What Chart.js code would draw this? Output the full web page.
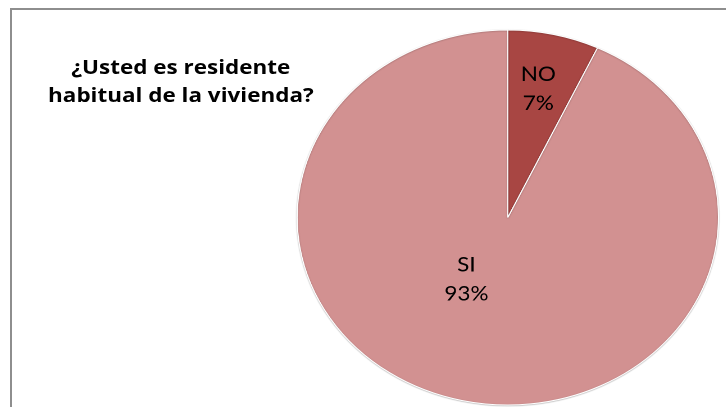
<!DOCTYPE html>
<html>
<head>
<meta charset="utf-8">
<script src="https://cdn.jsdelivr.net/npm/chart.js@4"></script>
<style>
  html, body { margin: 0; padding: 0; background: #fff; }
  #wrap { position: relative; width: 726px; height: 407px; overflow: hidden; background: #fff; }
  #frame { position: absolute; left: 10px; top: 8px; width: 800px; height: 500px;
           border-left: 2px solid #8e8e8e; border-top: 2px solid #8e8e8e; box-sizing: border-box; }
  #stage { position: absolute; left: 0; top: 0; width: 646px; height: 407px;
           transform: scaleX(1.1235); transform-origin: 0 0; }
  #title { position: absolute; left: 40px; width: 242px; top: 53px; text-align: center;
           font-family: "Open Sans", Lato, sans-serif; font-weight: bold; font-size: 20px;
           line-height: 28px; color: #000; }
</style>
</head>
<body>
<div id="wrap">
  <div id="frame"></div>
  <div id="stage">
    <canvas id="c"></canvas>
    <div id="title">¿Usted es residente<br>habitual de la vivienda?</div>
  </div>
</div>
<script>
const categories = ["NO", "SI"];
const values = [7, 93];
const sliceColors = ["#A84643", "#D29191"];

const labelPlugin = {
  id: 'sliceLabels',
  afterDatasetsDraw(chart, args, opts) {
    const ctx = chart.ctx;
    const meta = chart.getDatasetMeta(0);
    const data = chart.data.datasets[0].data;
    const total = data.reduce((a, b) => a + b, 0);
    ctx.save();
    ctx.font = opts.font;
    ctx.fillStyle = opts.color;
    ctx.textAlign = 'center';
    ctx.textBaseline = 'middle';
    meta.data.forEach((arc, i) => {
      const p = arc.getProps(['x', 'y', 'startAngle', 'endAngle', 'outerRadius'], true);
      const mid = (p.startAngle + p.endAngle) / 2 + opts.angleShift[i];
      const r = p.outerRadius * opts.radiusFrac[i];
      const cx = p.x + Math.cos(mid) * r;
      const cy = p.y + Math.sin(mid) * r;
      const pct = Math.round(data[i] / total * 100) + '%';
      ctx.fillText(chart.data.labels[i], cx, cy - opts.lineHeight / 2);
      ctx.fillText(pct, cx, cy + opts.lineHeight / 2);
    });
    ctx.restore();
  }
};

const shadowPlugin = {
  id: 'pieShadow',
  beforeDatasetsDraw(chart) {
    const ctx = chart.ctx;
    ctx.save();
    ctx.shadowColor = 'rgba(0,0,0,0.28)';
    ctx.shadowBlur = 3;
    ctx.shadowOffsetX = 0;
    ctx.shadowOffsetY = 1;
  },
  afterDatasetsDraw(chart) {
    chart.ctx.restore();
  }
};

new Chart(document.getElementById('c'), {
  type: 'pie',
  data: {
    labels: categories,
    datasets: [{
      data: values,
      backgroundColor: sliceColors,
      borderColor: '#ffffff',
      borderWidth: 1
    }]
  },
  options: {
    responsive: true,
    maintainAspectRatio: false,
    animation: false,
    devicePixelRatio: 2,
    layout: { padding: { left: 264, right: 6, top: 29.5, bottom: 1.5 } },
    plugins: {
      legend: { display: false },
      title: { display: false },
      tooltip: { enabled: false },
      sliceLabels: {
        font: '20px Lato, "Open Sans", sans-serif',
        color: '#000',
        lineHeight: 29,
        radiusFrac: [0.70, 0.384],
        angleShift: [-0.012, 0.318]
      }
    }
  },
  plugins: [shadowPlugin, labelPlugin]
});
</script>
</body>
</html>
